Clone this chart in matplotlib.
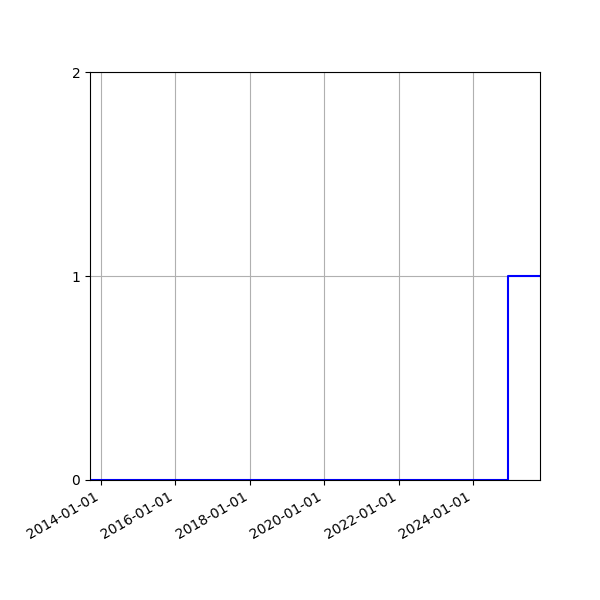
import matplotlib
matplotlib.use("Agg")
import matplotlib.pyplot as plt
import matplotlib.dates as mdates
import numpy as np

dates = np.array(["2013-09-15", "2024-12-09", "2025-10-19"], dtype="datetime64[D]")
counts = [0, 1, 1]

fig, ax = plt.subplots(figsize=(6, 6), dpi=100)
ax.step(dates, counts, where="post", color="b")
ax.set_xlim(dates[0], dates[-1])
ax.set_ylim(0, 2)
ax.set_yticks([0, 1, 2])
ax.xaxis.set_major_locator(mdates.YearLocator(2))
ax.xaxis.set_major_formatter(mdates.DateFormatter("%Y-%m-%d"))
ax.grid(True)
fig.autofmt_xdate()
fig.subplots_adjust(left=0.15)
fig.savefig("out.png")
